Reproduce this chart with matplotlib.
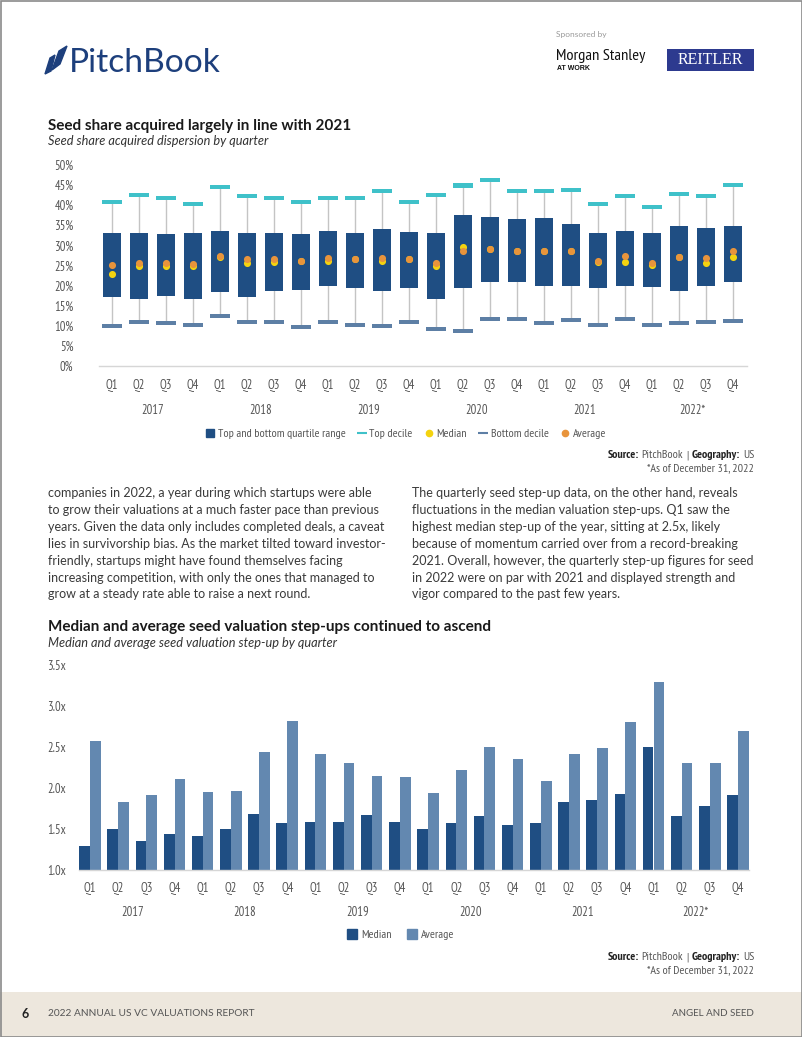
import matplotlib
matplotlib.use("Agg")
from matplotlib import pyplot as plt
from matplotlib import font_manager
from matplotlib.patches import Rectangle, Polygon
from matplotlib.lines import Line2D

# ---- data -------------------------------------------------------------
quarters = ["Q1", "Q2", "Q3", "Q4"] * 6
years = ["2017", "2018", "2019", "2020", "2021", "2022*"]

# seed share acquired (%)
top_decile = [40.9, 42.5, 41.8, 40.4, 44.5, 42.2, 41.8, 40.9, 41.8, 41.8, 43.5, 40.9,
              42.5, 44.9, 46.3, 43.5, 43.5, 43.9, 40.4, 42.2, 39.5, 42.9, 42.3, 45.0]
upper_quartile = [33.1, 33.1, 32.8, 33.1, 33.6, 33.1, 33.1, 32.8, 33.6, 33.1, 34.1, 33.3,
                  33.1, 37.5, 37.1, 36.5, 36.9, 35.3, 33.1, 33.6, 33.1, 34.8, 34.4, 34.8]
lower_quartile = [17.2, 16.6, 17.4, 16.6, 18.4, 17.2, 18.7, 19.0, 19.9, 19.4, 18.7, 19.4,
                  16.7, 19.3, 20.8, 21.0, 19.9, 19.9, 19.3, 19.9, 19.6, 18.6, 19.9, 21.0]
bottom_decile = [10.0, 11.0, 10.7, 10.1, 12.4, 11.0, 11.0, 9.6, 11.0, 10.1, 10.0, 11.0,
                 9.2, 8.8, 11.6, 11.6, 10.8, 11.4, 10.3, 11.8, 10.1, 10.7, 11.0, 11.2]
median_share = [23.0, 24.9, 24.9, 24.8, 27.0, 25.5, 25.8, 26.0, 26.2, 26.6, 26.0, 26.7,
                24.9, 29.5, 29.2, 28.7, 28.5, 28.5, 25.8, 25.8, 25.2, 27.0, 25.5, 27.1]
average_share = [25.2, 25.7, 25.6, 25.4, 27.3, 26.7, 26.7, 26.0, 26.9, 26.6, 26.9, 26.7,
                 25.7, 28.7, 29.0, 28.7, 28.5, 28.5, 26.1, 27.3, 25.7, 27.0, 26.9, 28.6]
share_ticks = [0, 5, 10, 15, 20, 25, 30, 35, 40, 45, 50]

# seed valuation step-ups (x)
median_stepup = [1.29, 1.50, 1.35, 1.44, 1.41, 1.50, 1.68, 1.57, 1.58, 1.58, 1.67, 1.59,
                 1.50, 1.57, 1.66, 1.55, 1.57, 1.83, 1.85, 1.93, 2.50, 1.66, 1.78, 1.91]
average_stepup = [2.57, 1.83, 1.91, 2.11, 1.95, 1.96, 2.44, 2.82, 2.42, 2.30, 2.15, 2.13,
                  1.94, 2.22, 2.50, 2.35, 2.09, 2.42, 2.49, 2.81, 3.29, 2.31, 2.30, 2.70]
stepup_ticks = [1.0, 1.5, 2.0, 2.5, 3.0, 3.5]

left_text = [
    "companies in 2022, a year during which startups were able",
    "to grow their valuations at a much faster pace than previous",
    "years. Given the data only includes completed deals, a caveat",
    "lies in survivorship bias. As the market tilted toward investor-",
    "friendly, startups might have found themselves facing",
    "increasing competition, with only the ones that managed to",
    "grow at a steady rate able to raise a next round.",
]
right_text = [
    "The quarterly seed step-up data, on the other hand, reveals",
    "fluctuations in the median valuation step-ups. Q1 saw the",
    "highest median step-up of the year, sitting at 2.5x, likely",
    "because of momentum carried over from a record-breaking",
    "2021. Overall, however, the quarterly step-up figures for seed",
    "in 2022 were on par with 2021 and displayed strength and",
    "vigor compared to the past few years.",
]

# ---- fonts ------------------------------------------------------------
regular = {f.name for f in font_manager.fontManager.ttflist
           if f.weight == 400 and f.style == "normal"}


def first_font(*names):
    for n in names:
        if n in regular:
            return n
    return "Liberation Sans"


NARROW = first_font("PT Sans Narrow", "Roboto Condensed", "Fira Sans Condensed",
                    "Archivo Narrow", "Liberation Sans Narrow", "Sofia Sans Semi Condensed")
HEAD = first_font("Lato", "Open Sans")
BODY = HEAD

BOX = "#1f4e83"
TOPDEC = "#3fc1c9"
BOTDEC = "#5d7fa5"
MED = "#f4d30f"
AVG = "#e8943c"
AVGBAR = "#6388b0"
AXISGRAY = "#d6d6d6"
TICKGRAY = "#555555"
TEXT = "#3a3a3a"

W, H = 802, 1037
fig = plt.figure(figsize=(W / 100, H / 100), dpi=100)
renderer = fig.canvas.get_renderer()


def fit_size(s, target, **kw):
    # font size that makes string s about target pixels wide
    t = fig.text(0, 0, s, fontsize=10, **kw)
    w = t.get_window_extent(renderer).width
    t.remove()
    return 10 * target / w


body_size = fit_size(left_text[2], 335, family=BODY)
title_size = fit_size("Seed share acquired largely in line with 2021", 305,
                      family=HEAD, fontweight="bold")
sub_size = fit_size("Seed share acquired dispersion by quarter", 221, family=HEAD, style="italic")
small_size = fit_size("Top and bottom quartile range", 127, family=NARROW)
tick_size = small_size * 1.05
note_size = fit_size("*As of December 31, 2022", 106, family=NARROW)

# page layer in pixel coordinates
page = fig.add_axes([0, 0, 1, 1], zorder=-1)
page.set_xlim(0, W)
page.set_ylim(H, 0)
page.axis("off")

page.add_patch(Rectangle((0, 992), W, 45, color="#ede7dd", lw=0))
page.add_patch(Rectangle((0.5, 0.5), W - 1, H - 1, fill=False, ec="#8a8a8a", lw=1.2))

# logo
page.add_patch(Polygon([(52, 70), (59, 51), (67, 46), (60, 64)], closed=True, color="#1d3f7c"))
page.add_patch(Polygon([(45, 74), (50, 58), (55, 55), (51, 71)], closed=True, color="#1d3f7c"))
page.text(69, 72, "PitchBook", family=HEAD, color="#1d3f7c", va="baseline",
          fontsize=fit_size("PitchBook", 152, family=HEAD))

page.text(556, 35, "Sponsored by", fontsize=6, family=HEAD, color="#9a9a9a", va="center")
page.text(556, 56, "Morgan Stanley", family=NARROW, color="#111111", va="center",
          fontsize=fit_size("Morgan Stanley", 89, family=NARROW))
page.text(557, 69, "AT WORK", fontsize=5, family="Liberation Sans", fontweight="bold",
          color="#111111", va="center")
page.add_patch(Rectangle((667, 49), 87, 22, color="#2d3a8f", lw=0))
page.text(710.5, 60.5, "REITLER", fontsize=11.5, family="Liberation Serif", color="white",
          ha="center", va="center")

# titles
page.text(48, 130, "Seed share acquired largely in line with 2021", fontsize=title_size,
          family=HEAD, fontweight="bold", color="#1a1a1a", va="baseline")
page.text(48, 145, "Seed share acquired dispersion by quarter", fontsize=sub_size,
          family=HEAD, style="italic", color="#333333", va="baseline")
page.text(48, 631, "Median and average seed valuation step-ups continued to ascend",
          fontsize=title_size, family=HEAD, fontweight="bold", color="#1a1a1a", va="baseline")
page.text(48, 647, "Median and average seed valuation step-up by quarter", fontsize=sub_size,
          family=HEAD, style="italic", color="#333333", va="baseline")

for i, line in enumerate(left_text):
    page.text(48, 497 + i * 16.9, line, fontsize=body_size, family=BODY, color=TEXT,
              va="baseline")
for i, line in enumerate(right_text):
    page.text(412, 497 + i * 16.9, line, fontsize=body_size, family=BODY, color=TEXT,
              va="baseline")


def source_note(y):
    runs = [("Source:", "bold", 2.5), ("PitchBook", "normal", 3.5), ("|", "normal", 3.5),
            ("Geography:", "bold", 2.5), ("US", "normal", 0)]
    x = 754
    for txt, weight, gap in reversed(runs):
        x -= gap
        t = page.text(x, y, txt, fontsize=note_size, family=NARROW, fontweight=weight,
                      color="#222222" if weight == "bold" else "#555555", ha="right", va="center")
        x -= t.get_window_extent(renderer).width
    page.text(754, y + 13, "*As of December 31, 2022", fontsize=note_size, family=NARROW,
              color="#555555", ha="right", va="center")


source_note(455)
source_note(957)

# footer
page.text(22, 1014, "6", fontsize=9, family=HEAD, fontweight="bold", color="#222222", va="center")
page.text(48, 1014, "2022 ANNUAL US VC VALUATIONS REPORT", family=HEAD, color="#555555",
          va="center", fontsize=fit_size("2022 ANNUAL US VC VALUATIONS REPORT", 205, family=HEAD))
page.text(754, 1014, "ANGEL AND SEED", family=HEAD, color="#555555", ha="right", va="center",
          fontsize=fit_size("ANGEL AND SEED", 82, family=HEAD))

x = list(range(len(quarters)))

# ---- chart 1: box chart ------------------------------------------------
ax1 = fig.add_axes([98.5 / W, 1 - 366 / H, 648 / W, 201 / H])
ax1.vlines(x, bottom_decile, top_decile, color="#c4c4c4", lw=1, zorder=1)
ax1.bar(x, [u - l for u, l in zip(upper_quartile, lower_quartile)], bottom=lower_quartile,
        width=0.63, color=BOX, zorder=2)
ax1.bar(x, 1.0, bottom=[v - 0.5 for v in top_decile], width=0.73, color=TOPDEC, zorder=2)
ax1.bar(x, 1.0, bottom=[v - 0.5 for v in bottom_decile], width=0.73, color=BOTDEC, zorder=2)
ax1.scatter(x, median_share, s=26, color=MED, zorder=3, linewidths=0)
ax1.scatter(x, average_share, s=26, color=AVG, zorder=4, linewidths=0)
ax1.set_xlim(-0.5, len(x) - 0.5)
ax1.set_ylim(0, 50)
ax1.set_yticks(share_ticks)
ax1.set_yticklabels([f"{t}%" for t in share_ticks])
ax1.tick_params(axis="y", length=0, pad=18, labelsize=tick_size, labelcolor=TICKGRAY)

# ---- chart 2: grouped bars --------------------------------------------
ax2 = fig.add_axes([78.7 / W, 1 - 870 / H, 670.6 / W, 205 / H])
bw = 0.38
ax2.bar([i - bw / 2 for i in x], [m - 1 for m in median_stepup], bottom=1, width=bw, color=BOX)
ax2.bar([i + bw / 2 for i in x], [a - 1 for a in average_stepup], bottom=1, width=bw, color=AVGBAR)
ax2.set_xlim(-0.4, len(x) - 0.6)
ax2.set_ylim(1.0, 3.5)
ax2.set_yticks(stepup_ticks)
ax2.set_yticklabels([f"{t:.1f}x" for t in stepup_ticks])
ax2.tick_params(axis="y", length=0, pad=9.5, labelsize=tick_size, labelcolor=TICKGRAY)

for ax, ypad, yoff in [(ax1, 9, -34.5), (ax2, 8.5, -33)]:
    for s in ["top", "right", "left"]:
        ax.spines[s].set_visible(False)
    ax.spines["bottom"].set_color(AXISGRAY)
    ax.spines["bottom"].set_linewidth(1)
    ax.set_facecolor("none")
    ax.set_xticks(x)
    ax.set_xticklabels(quarters)
    ax.tick_params(axis="x", length=0, pad=ypad, labelsize=tick_size, labelcolor=TICKGRAY)
    for label in ax.get_xticklabels() + ax.get_yticklabels():
        label.set_family(NARROW)
    for k, yr in enumerate(years):
        ax.annotate(yr, xy=(4 * k + 1.5, 0), xycoords=("data", "axes fraction"),
                    xytext=(0, yoff), textcoords="offset points", ha="center", va="baseline",
                    fontsize=tick_size, family=NARROW, color=TICKGRAY)

# legends
h1 = [Line2D([], [], ls="", marker="s", color=BOX, markersize=5.5),
      Line2D([], [], ls="", marker="_", color=TOPDEC, markersize=7, mew=1.5),
      Line2D([], [], ls="", marker="o", color=MED, markersize=4.5),
      Line2D([], [], ls="", marker="_", color=BOTDEC, markersize=7, mew=1.5),
      Line2D([], [], ls="", marker="o", color=AVG, markersize=4.5)]
l1 = ["Top and bottom quartile range", "Top decile", "Median", "Bottom decile", "Average"]
fig.legend(h1, l1, loc="center", bbox_to_anchor=(406 / W, 1 - 434 / H), ncol=5, frameon=False,
           handlelength=0.7, handletextpad=0.3, columnspacing=1.0,
           prop={"family": NARROW, "size": small_size}, labelcolor=TICKGRAY)

h2 = [Line2D([], [], ls="", marker="s", color=BOX, markersize=6.5),
      Line2D([], [], ls="", marker="s", color=AVGBAR, markersize=6.5)]
fig.legend(h2, ["Median", "Average"], loc="center", bbox_to_anchor=(401 / W, 1 - 935 / H),
           ncol=2, frameon=False, handlelength=0.8, handletextpad=0.35, columnspacing=1.3,
           prop={"family": NARROW, "size": small_size}, labelcolor=TICKGRAY)

fig.savefig("out.png", dpi=100)
